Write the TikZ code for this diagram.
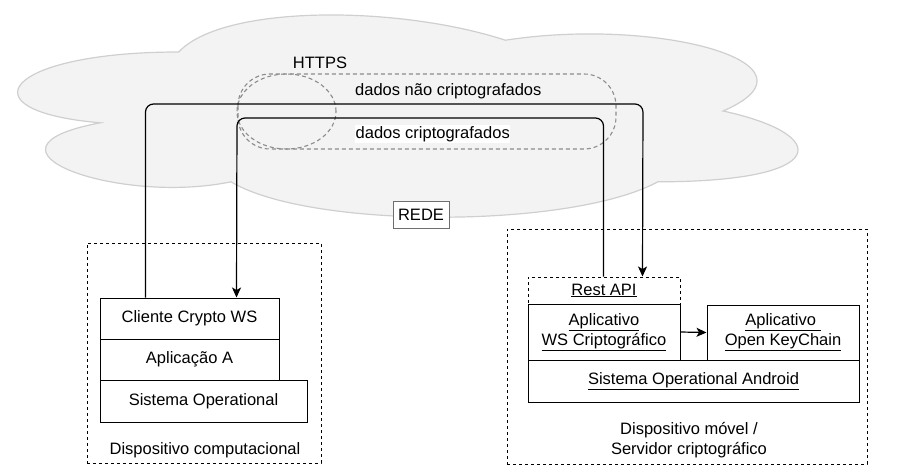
\documentclass[tikz,border=0pt]{standalone}
\usepackage{fontspec}
\setmainfont{Liberation Sans}
\usetikzlibrary{arrows.meta,shapes.geometric}
\definecolor{cloudfill}{HTML}{F3F3F3}
\definecolor{cloudline}{HTML}{CFCFCF}
\definecolor{dashgray}{HTML}{8C8C8C}
\definecolor{boxgray}{HTML}{6E6E6E}
\tikzset{
  every node/.style={font=\fontsize{16.5}{19}\selectfont, text=black, inner sep=0pt},
  layerbox/.style={draw=black, line width=1pt, fill=white, align=center},
  container/.style={draw=black, line width=1pt, dash pattern=on 3pt off 3pt},
  httpsline/.style={draw=dashgray, line width=1.1pt, dash pattern=on 4pt off 3pt},
  conn/.style={draw=black, line width=1.2pt, rounded corners=8pt},
  tip/.style={-{Stealth[length=10pt,width=9pt,inset=2.5pt]}},
}
\begin{document}
\begin{tikzpicture}[x=1pt,y=-1pt]
\useasboundingbox (0,0) rectangle (900,472);
% cloud
\draw[fill=cloudfill, draw=cloudline, line width=1.2pt]
  (178.75,52) .. controls (4.55,52) and (-39,111) .. (100.36,122.8)
  .. controls (-39,148.76) and (117.78,205.4) .. (231.01,181.8)
  .. controls (309.4,229) and (570.7,229) .. (657.8,181.8)
  .. controls (832,181.8) and (832,134.6) .. (723.1,111)
  .. controls (832,63.8) and (657.8,16.6) .. (505.4,40.2)
  .. controls (396.5,4.8) and (222.3,4.8) .. (178.75,52) -- cycle;
% https shapes
\draw[httpsline, rounded corners=32pt] (238,74) rectangle (616,149);
\node[ellipse, httpsline, minimum width=99pt, minimum height=75pt] (https) at (286.5,111.5) {};
\node (httpslbl) at (320,63) {HTTPS};
\node[draw=boxgray, line width=1pt, fill=white, minimum width=56pt, minimum height=27pt] (rede) at (421,214.5) {REDE};

% left device
\node[container, minimum width=234pt, minimum height=220pt] (left) at (204,353) {};
\node[layerbox, minimum width=179pt, minimum height=41pt] (cli) at (189.5,318.5) {Cliente Crypto WS};
\node[layerbox, minimum width=179pt, minimum height=41pt] (apl) at (189.5,359.5) {Aplicação A};
\node[layerbox, minimum width=207pt, minimum height=42pt] (so) at (203.5,401) {Sistema Operational};
\node (leftlbl) at (205,450) {Dispositivo computacional};

% right device
\node[container, minimum width=360pt, minimum height=235pt] (right) at (687,346.5) {};
\node[layerbox, dash pattern=on 3pt off 3pt, minimum width=152pt, minimum height=27pt] (rest) at (604,290.5) {\underline{Rest API}};
\node[layerbox, minimum width=152pt, minimum height=56pt] (ws) at (604,332) {\underline{Aplicativo}\\[1pt]\underline{WS Criptográfico}};
\node[layerbox, minimum width=152pt, minimum height=55pt] (kc) at (783,332.5) {\underline{Aplicativo\ }\\[1pt]\underline{Open KeyChain}};
\node[layerbox, minimum width=331pt, minimum height=42pt] (and) at (693.5,381) {\underline{Sistema Operational Android}};
\node[align=center] (rightlbl) at (689,440) {Dispositivo móvel /\\[1pt]Servidor criptográfico};

\draw[conn, tip] (ws.east) -- (kc.west);

% connectors
\coordinate (r1) at (643,104);
\coordinate (r2) at (237,118);
\draw[conn, tip] ([xshift=46pt]cli.north west) |- (r1) -- ([xshift=115pt]rest.north west);
\draw[conn, tip] ([xshift=76pt]rest.north west) |- (r2) -- ([xshift=137pt]cli.north west);

% texts
\node[anchor=west] (t1) at (355,91) {dados não criptografados};
\node[anchor=west, fill=white, inner ysep=1.5pt, inner xsep=0.5pt] (t2) at (355,134) {dados criptografados};
\end{tikzpicture}
\end{document}
